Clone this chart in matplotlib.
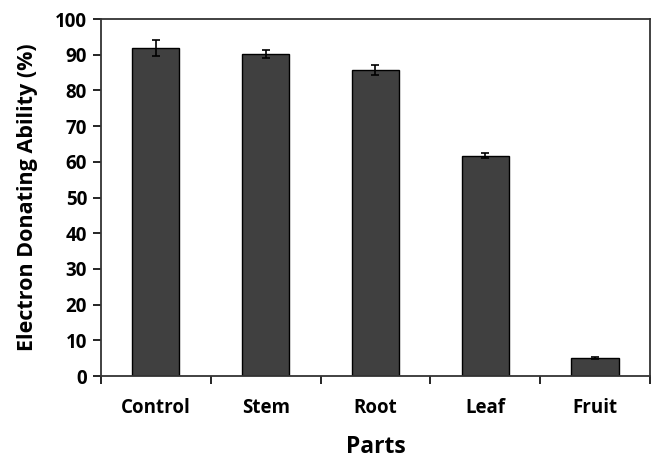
import matplotlib.pyplot as plt
import numpy as np

parts = ["Control", "Stem", "Root", "Leaf", "Fruit"]
eda = [91.9, 90.2, 85.7, 61.7, 5.1]
eda_err = [2.2, 1.2, 1.4, 0.7, 0.2]

plt.rcParams['font.family'] = ['Open Sans', 'DejaVu Sans']

fig = plt.figure(figsize=(6.54, 4.59), dpi=100)
ax = fig.add_axes([0.1544, 0.1808, 0.8395, 0.7778])

x = np.arange(len(parts))
ax.bar(x, eda, width=0.43, color="#404040", edgecolor="black", linewidth=1.0,
       yerr=eda_err, capsize=3, error_kw=dict(ecolor="black", elinewidth=1.2, capthick=1.2))

ax.set_xlim(-0.5, len(parts) - 0.5)
ax.set_ylim(0, 100)
ax.set_yticks(range(0, 101, 10))
ax.set_xticks(np.arange(-0.5, len(parts), 1.0))
ax.set_xticklabels([])
ax.set_xticks(x, minor=True)
ax.set_xticklabels(parts, minor=True, fontsize=13.5, fontweight="bold")
ax.tick_params(axis="x", which="minor", length=0, pad=16)
ax.tick_params(axis="x", which="major", direction="out", length=6, width=1.2)
ax.tick_params(axis="y", direction="out", length=6, width=1.2, labelsize=13.5, pad=4)
for lab in ax.get_yticklabels():
    lab.set_fontweight("bold")

for s in ax.spines.values():
    s.set_color("#333333")
    s.set_linewidth(1.3)

ax.set_xlabel("Parts", fontsize=16.5, fontweight="bold", labelpad=12)
ax.set_ylabel("Electron Donating Ability (%)", fontsize=15.5, fontweight="bold", labelpad=12)

fig.savefig("out.png", dpi=100)
